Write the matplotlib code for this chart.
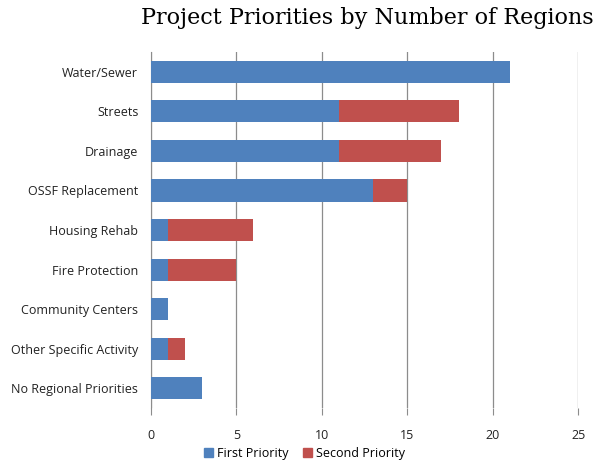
import matplotlib.pyplot as plt
from matplotlib.patches import Patch

# --------------------------------------------------------------------
# DATA
# --------------------------------------------------------------------
categories = ['Water/Sewer', 'Streets', 'Drainage', 'OSSF Replacement',
              'Housing Rehab', 'Fire Protection', 'Community Centers',
              'Other Specific Activity', 'No Regional Priorities']
first_priority = [21, 11, 11, 13, 1, 1, 1, 1, 3]
second_priority = [0, 7, 6, 2, 5, 4, 0, 1, 0]
x_ticks = [0, 5, 10, 15, 20, 25]

blue = '#4F81BD'
red = '#C0504D'

# --------------------------------------------------------------------
# PLOT
# --------------------------------------------------------------------
plt.rcParams['font.family'] = ['Open Sans', 'DejaVu Sans']

fig = plt.figure(figsize=(6.03, 4.61), dpi=100)
ax = fig.add_axes([0.250, 0.115, 0.709, 0.772])

y = list(range(len(categories)))
ax.barh(y, first_priority, height=0.56, color=blue, zorder=3)
ax.barh(y, second_priority, left=first_priority, height=0.56, color=red, zorder=3)

ax.set_ylim(len(categories) - 0.5, -0.5)
ax.set_xlim(0, 25)
ax.set_yticks(y)
ax.set_yticklabels(categories, fontsize=9)
ax.set_xticks(x_ticks)
ax.set_xticklabels([str(t) for t in x_ticks], fontsize=9)

ax.grid(axis='x', color='#8c8c8c', linewidth=0.9, zorder=0)
for s in ['top', 'right', 'bottom']:
    ax.spines[s].set_visible(False)
ax.spines['left'].set_color('#8c8c8c')
ax.tick_params(axis='y', length=0, pad=9, colors='#222222')
ax.tick_params(axis='x', length=5, color='#8c8c8c', pad=10, colors='#222222')

fig.text(0.609, 0.960, 'Project Priorities by Number of Regions',
         family='DejaVu Serif', fontsize=16, ha='center', va='center')

handles = [Patch(color=blue, label='First Priority'),
           Patch(color=red, label='Second Priority')]
fig.legend(handles=handles, loc='center', bbox_to_anchor=(0.505, 0.017),
           ncol=2, frameon=False, fontsize=9, handlelength=0.7,
           handleheight=0.7, handletextpad=0.3, columnspacing=1.2)

plt.savefig('out.png', dpi=100)
